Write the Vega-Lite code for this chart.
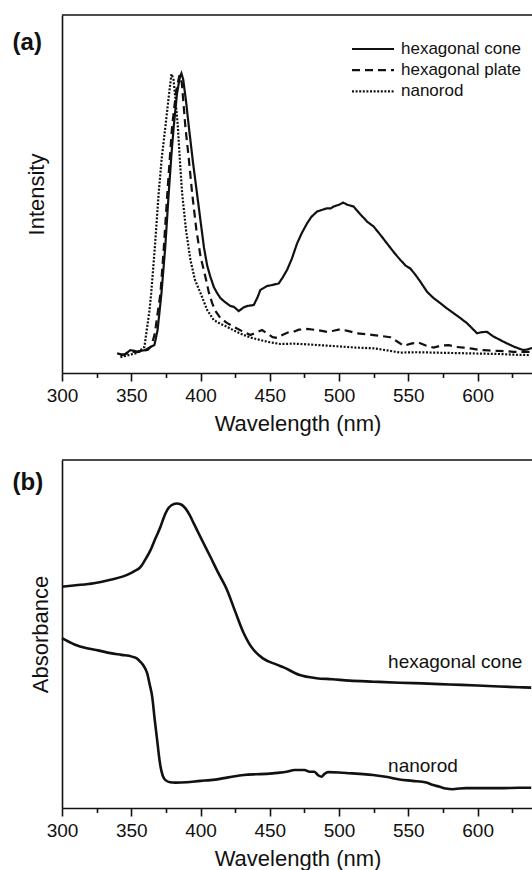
{
  "$schema": "https://vega.github.io/schema/vega-lite/v6.json",
  "background": "white",
  "padding": {"left": 12, "top": 14, "right": 0, "bottom": 0},
  "bounds": "flush",
  "spacing": 87,
  "config": {
    "font": "Liberation Sans",
    "view": {"stroke": null},
    "axis": {
      "domainColor": "#111", "domainWidth": 1.6,
      "tickColor": "#111", "tickWidth": 1.6,
      "labelFont": "Liberation Sans", "labelFontSize": 19, "labelColor": "#111",
      "labelFlush": false, "labelOverlap": false,
      "titleFont": "Liberation Sans", "titleFontSize": 22, "titleFontWeight": "normal", "titleColor": "#111",
      "grid": false
    },
    "legend": {"labelFont": "Liberation Sans", "labelFontSize": 17, "labelColor": "#111"}
  },
  "datasets": {
    "pl": [
      {"s": "hexagonal cone", "wl": 339.8, "v": 5.5}, {"s": "hexagonal cone", "wl": 344.6, "v": 5.0}, {"s": "hexagonal cone", "wl": 349.4, "v": 6.4}, {"s": "hexagonal cone", "wl": 354.2, "v": 6.0}, {"s": "hexagonal cone", "wl": 360.2, "v": 6.4}, {"s": "hexagonal cone", "wl": 363.9, "v": 7.3}, {"s": "hexagonal cone", "wl": 366.7, "v": 7.8}, {"s": "hexagonal cone", "wl": 369, "v": 12}, {"s": "hexagonal cone", "wl": 371.8, "v": 22.3}, {"s": "hexagonal cone", "wl": 374.5, "v": 35}, {"s": "hexagonal cone", "wl": 377, "v": 50}, {"s": "hexagonal cone", "wl": 379, "v": 61}, {"s": "hexagonal cone", "wl": 380.7, "v": 69}, {"s": "hexagonal cone", "wl": 383, "v": 78}, {"s": "hexagonal cone", "wl": 385, "v": 82.5}, {"s": "hexagonal cone", "wl": 386.2, "v": 83.7}, {"s": "hexagonal cone", "wl": 387.5, "v": 82}, {"s": "hexagonal cone", "wl": 389.5, "v": 76}, {"s": "hexagonal cone", "wl": 391.5, "v": 69}, {"s": "hexagonal cone", "wl": 394.5, "v": 59}, {"s": "hexagonal cone", "wl": 397.5, "v": 50}, {"s": "hexagonal cone", "wl": 400.5, "v": 41}, {"s": "hexagonal cone", "wl": 402.5, "v": 35}, {"s": "hexagonal cone", "wl": 404.8, "v": 30}, {"s": "hexagonal cone", "wl": 407, "v": 27}, {"s": "hexagonal cone", "wl": 409.5, "v": 24.1}, {"s": "hexagonal cone", "wl": 412, "v": 22.3}, {"s": "hexagonal cone", "wl": 414.4, "v": 20.9}, {"s": "hexagonal cone", "wl": 418, "v": 19.7}, {"s": "hexagonal cone", "wl": 421.6, "v": 18.7}, {"s": "hexagonal cone", "wl": 424, "v": 18.5}, {"s": "hexagonal cone", "wl": 427.6, "v": 17.3}, {"s": "hexagonal cone", "wl": 431, "v": 18.3}, {"s": "hexagonal cone", "wl": 433.6, "v": 18.7}, {"s": "hexagonal cone", "wl": 438.4, "v": 19}, {"s": "hexagonal cone", "wl": 441, "v": 21}, {"s": "hexagonal cone", "wl": 443.2, "v": 23.2}, {"s": "hexagonal cone", "wl": 448, "v": 24.3}, {"s": "hexagonal cone", "wl": 452, "v": 24.6}, {"s": "hexagonal cone", "wl": 456.4, "v": 25}, {"s": "hexagonal cone", "wl": 459, "v": 26.5}, {"s": "hexagonal cone", "wl": 462.5, "v": 28.8}, {"s": "hexagonal cone", "wl": 466, "v": 32}, {"s": "hexagonal cone", "wl": 469.7, "v": 36.2}, {"s": "hexagonal cone", "wl": 473, "v": 39}, {"s": "hexagonal cone", "wl": 476.9, "v": 41.8}, {"s": "hexagonal cone", "wl": 480, "v": 43.6}, {"s": "hexagonal cone", "wl": 484.1, "v": 45.1}, {"s": "hexagonal cone", "wl": 488, "v": 45.6}, {"s": "hexagonal cone", "wl": 491.3, "v": 46}, {"s": "hexagonal cone", "wl": 494, "v": 46}, {"s": "hexagonal cone", "wl": 496.1, "v": 46.5}, {"s": "hexagonal cone", "wl": 500, "v": 47}, {"s": "hexagonal cone", "wl": 502.9, "v": 47.6}, {"s": "hexagonal cone", "wl": 506, "v": 47}, {"s": "hexagonal cone", "wl": 510.5, "v": 46.5}, {"s": "hexagonal cone", "wl": 515, "v": 44.5}, {"s": "hexagonal cone", "wl": 520.2, "v": 42.3}, {"s": "hexagonal cone", "wl": 525, "v": 40.9}, {"s": "hexagonal cone", "wl": 530, "v": 38.5}, {"s": "hexagonal cone", "wl": 534.6, "v": 36.2}, {"s": "hexagonal cone", "wl": 540, "v": 33.5}, {"s": "hexagonal cone", "wl": 544.2, "v": 31.6}, {"s": "hexagonal cone", "wl": 548, "v": 30}, {"s": "hexagonal cone", "wl": 551.4, "v": 29.2}, {"s": "hexagonal cone", "wl": 555, "v": 27.5}, {"s": "hexagonal cone", "wl": 558.7, "v": 25.5}, {"s": "hexagonal cone", "wl": 563.5, "v": 22.7}, {"s": "hexagonal cone", "wl": 568, "v": 21}, {"s": "hexagonal cone", "wl": 573.1, "v": 19.5}, {"s": "hexagonal cone", "wl": 578, "v": 18}, {"s": "hexagonal cone", "wl": 582.7, "v": 16.7}, {"s": "hexagonal cone", "wl": 587, "v": 15.5}, {"s": "hexagonal cone", "wl": 592.4, "v": 13.9}, {"s": "hexagonal cone", "wl": 596, "v": 12.5}, {"s": "hexagonal cone", "wl": 599.6, "v": 11.1}, {"s": "hexagonal cone", "wl": 603, "v": 11.4}, {"s": "hexagonal cone", "wl": 606.8, "v": 11.5}, {"s": "hexagonal cone", "wl": 611, "v": 10.3}, {"s": "hexagonal cone", "wl": 616.4, "v": 9.2}, {"s": "hexagonal cone", "wl": 621, "v": 8.3}, {"s": "hexagonal cone", "wl": 626, "v": 7.4}, {"s": "hexagonal cone", "wl": 630, "v": 6.8}, {"s": "hexagonal cone", "wl": 633.2, "v": 6.4}, {"s": "hexagonal cone", "wl": 636, "v": 6.6}, {"s": "hexagonal cone", "wl": 639.3, "v": 7},

      {"s": "hexagonal plate", "wl": 342, "v": 5}, {"s": "hexagonal plate", "wl": 346, "v": 5.3}, {"s": "hexagonal plate", "wl": 350, "v": 6}, {"s": "hexagonal plate", "wl": 354, "v": 5.8}, {"s": "hexagonal plate", "wl": 358, "v": 6}, {"s": "hexagonal plate", "wl": 362, "v": 6.5}, {"s": "hexagonal plate", "wl": 364.5, "v": 7.5}, {"s": "hexagonal plate", "wl": 367, "v": 11}, {"s": "hexagonal plate", "wl": 369.5, "v": 18}, {"s": "hexagonal plate", "wl": 371, "v": 22}, {"s": "hexagonal plate", "wl": 373.5, "v": 35}, {"s": "hexagonal plate", "wl": 376, "v": 50}, {"s": "hexagonal plate", "wl": 378, "v": 61}, {"s": "hexagonal plate", "wl": 379.5, "v": 69}, {"s": "hexagonal plate", "wl": 382.5, "v": 79}, {"s": "hexagonal plate", "wl": 384.8, "v": 83.2}, {"s": "hexagonal plate", "wl": 386.5, "v": 81}, {"s": "hexagonal plate", "wl": 389, "v": 69}, {"s": "hexagonal plate", "wl": 391.5, "v": 60}, {"s": "hexagonal plate", "wl": 394, "v": 50}, {"s": "hexagonal plate", "wl": 397, "v": 40}, {"s": "hexagonal plate", "wl": 400, "v": 32.5}, {"s": "hexagonal plate", "wl": 403.5, "v": 26.9}, {"s": "hexagonal plate", "wl": 406, "v": 22.5}, {"s": "hexagonal plate", "wl": 408.4, "v": 19.5}, {"s": "hexagonal plate", "wl": 411, "v": 17.2}, {"s": "hexagonal plate", "wl": 414.4, "v": 15.3}, {"s": "hexagonal plate", "wl": 419, "v": 14}, {"s": "hexagonal plate", "wl": 424, "v": 12.9}, {"s": "hexagonal plate", "wl": 430, "v": 11.7}, {"s": "hexagonal plate", "wl": 436, "v": 10.6}, {"s": "hexagonal plate", "wl": 440, "v": 11.3}, {"s": "hexagonal plate", "wl": 444.4, "v": 12}, {"s": "hexagonal plate", "wl": 449, "v": 10.8}, {"s": "hexagonal plate", "wl": 452, "v": 10}, {"s": "hexagonal plate", "wl": 455.3, "v": 9.8}, {"s": "hexagonal plate", "wl": 459, "v": 10.6}, {"s": "hexagonal plate", "wl": 463, "v": 11.3}, {"s": "hexagonal plate", "wl": 467.2, "v": 11.5}, {"s": "hexagonal plate", "wl": 471, "v": 12.1}, {"s": "hexagonal plate", "wl": 476.9, "v": 12.3}, {"s": "hexagonal plate", "wl": 484, "v": 12}, {"s": "hexagonal plate", "wl": 491.3, "v": 11.5}, {"s": "hexagonal plate", "wl": 496, "v": 11.8}, {"s": "hexagonal plate", "wl": 500.9, "v": 12.2}, {"s": "hexagonal plate", "wl": 507, "v": 11.7}, {"s": "hexagonal plate", "wl": 513, "v": 11.1}, {"s": "hexagonal plate", "wl": 520, "v": 10.8}, {"s": "hexagonal plate", "wl": 525, "v": 10.6}, {"s": "hexagonal plate", "wl": 531, "v": 10.3}, {"s": "hexagonal plate", "wl": 537, "v": 10}, {"s": "hexagonal plate", "wl": 542, "v": 8.8}, {"s": "hexagonal plate", "wl": 546.6, "v": 7.6}, {"s": "hexagonal plate", "wl": 552, "v": 8.2}, {"s": "hexagonal plate", "wl": 557.4, "v": 8.5}, {"s": "hexagonal plate", "wl": 563, "v": 7.6}, {"s": "hexagonal plate", "wl": 568.3, "v": 7.1}, {"s": "hexagonal plate", "wl": 573, "v": 7.6}, {"s": "hexagonal plate", "wl": 579.1, "v": 7.8}, {"s": "hexagonal plate", "wl": 584, "v": 7.3}, {"s": "hexagonal plate", "wl": 589.9, "v": 7.1}, {"s": "hexagonal plate", "wl": 596, "v": 6.8}, {"s": "hexagonal plate", "wl": 602, "v": 6.4}, {"s": "hexagonal plate", "wl": 608, "v": 6.3}, {"s": "hexagonal plate", "wl": 614, "v": 6.2}, {"s": "hexagonal plate", "wl": 620, "v": 6.1}, {"s": "hexagonal plate", "wl": 626, "v": 5.9}, {"s": "hexagonal plate", "wl": 632, "v": 5.9}, {"s": "hexagonal plate", "wl": 638, "v": 5.9},

      {"s": "nanorod", "wl": 342.2, "v": 4.4}, {"s": "nanorod", "wl": 346, "v": 4.8}, {"s": "nanorod", "wl": 350, "v": 5.2}, {"s": "nanorod", "wl": 354, "v": 5.6}, {"s": "nanorod", "wl": 356.6, "v": 6.4}, {"s": "nanorod", "wl": 359.5, "v": 7.3}, {"s": "nanorod", "wl": 361.5, "v": 12.9}, {"s": "nanorod", "wl": 363, "v": 17}, {"s": "nanorod", "wl": 364.4, "v": 22.3}, {"s": "nanorod", "wl": 367, "v": 35}, {"s": "nanorod", "wl": 369.8, "v": 50.3}, {"s": "nanorod", "wl": 372, "v": 60}, {"s": "nanorod", "wl": 374.7, "v": 69}, {"s": "nanorod", "wl": 377, "v": 77}, {"s": "nanorod", "wl": 379, "v": 83.5}, {"s": "nanorod", "wl": 380.5, "v": 82}, {"s": "nanorod", "wl": 382, "v": 76}, {"s": "nanorod", "wl": 383.6, "v": 69}, {"s": "nanorod", "wl": 385, "v": 60}, {"s": "nanorod", "wl": 386.7, "v": 50.3}, {"s": "nanorod", "wl": 389.5, "v": 40}, {"s": "nanorod", "wl": 392.7, "v": 31.6}, {"s": "nanorod", "wl": 396, "v": 26}, {"s": "nanorod", "wl": 400, "v": 22.3}, {"s": "nanorod", "wl": 404.8, "v": 17.6}, {"s": "nanorod", "wl": 409.5, "v": 14.8}, {"s": "nanorod", "wl": 414, "v": 13.8}, {"s": "nanorod", "wl": 419.2, "v": 12.9}, {"s": "nanorod", "wl": 425, "v": 11.7}, {"s": "nanorod", "wl": 431.2, "v": 10.6}, {"s": "nanorod", "wl": 437, "v": 9.8}, {"s": "nanorod", "wl": 443.2, "v": 9.2}, {"s": "nanorod", "wl": 450, "v": 8.6}, {"s": "nanorod", "wl": 457.6, "v": 8.1}, {"s": "nanorod", "wl": 467, "v": 8.2}, {"s": "nanorod", "wl": 476.9, "v": 8}, {"s": "nanorod", "wl": 489, "v": 7.7}, {"s": "nanorod", "wl": 500.9, "v": 7.4}, {"s": "nanorod", "wl": 512, "v": 7.1}, {"s": "nanorod", "wl": 525, "v": 6.9}, {"s": "nanorod", "wl": 535, "v": 6.3}, {"s": "nanorod", "wl": 544.2, "v": 5.7}, {"s": "nanorod", "wl": 556, "v": 5.8}, {"s": "nanorod", "wl": 568.3, "v": 5.7}, {"s": "nanorod", "wl": 580, "v": 5.6}, {"s": "nanorod", "wl": 592.4, "v": 5.5}, {"s": "nanorod", "wl": 604, "v": 5.4}, {"s": "nanorod", "wl": 616.4, "v": 5.3}, {"s": "nanorod", "wl": 627, "v": 5.1}, {"s": "nanorod", "wl": 638, "v": 5}
    ],
    "abs": [
      {"s": "hexagonal cone", "wl": 300, "v": 63.6}, {"s": "hexagonal cone", "wl": 310, "v": 64}, {"s": "hexagonal cone", "wl": 323, "v": 64.6}, {"s": "hexagonal cone", "wl": 335, "v": 65.6}, {"s": "hexagonal cone", "wl": 347, "v": 67}, {"s": "hexagonal cone", "wl": 352, "v": 68}, {"s": "hexagonal cone", "wl": 356.6, "v": 69.2}, {"s": "hexagonal cone", "wl": 360, "v": 71.3}, {"s": "hexagonal cone", "wl": 363.9, "v": 74.1}, {"s": "hexagonal cone", "wl": 367.5, "v": 77.5}, {"s": "hexagonal cone", "wl": 371.1, "v": 80.8}, {"s": "hexagonal cone", "wl": 373.5, "v": 83.5}, {"s": "hexagonal cone", "wl": 375.9, "v": 85.6}, {"s": "hexagonal cone", "wl": 379, "v": 87}, {"s": "hexagonal cone", "wl": 382.6, "v": 87.5}, {"s": "hexagonal cone", "wl": 386, "v": 87.2}, {"s": "hexagonal cone", "wl": 389.1, "v": 86.1}, {"s": "hexagonal cone", "wl": 392, "v": 84.3}, {"s": "hexagonal cone", "wl": 395.1, "v": 81.8}, {"s": "hexagonal cone", "wl": 401, "v": 77}, {"s": "hexagonal cone", "wl": 407.1, "v": 72.2}, {"s": "hexagonal cone", "wl": 413, "v": 67.4}, {"s": "hexagonal cone", "wl": 419.2, "v": 62.6}, {"s": "hexagonal cone", "wl": 425, "v": 56.5}, {"s": "hexagonal cone", "wl": 431.2, "v": 50.2}, {"s": "hexagonal cone", "wl": 435, "v": 47.3}, {"s": "hexagonal cone", "wl": 438.4, "v": 45.4}, {"s": "hexagonal cone", "wl": 445, "v": 43}, {"s": "hexagonal cone", "wl": 455, "v": 41.2}, {"s": "hexagonal cone", "wl": 460, "v": 40.4}, {"s": "hexagonal cone", "wl": 471.6, "v": 38.2}, {"s": "hexagonal cone", "wl": 483.6, "v": 37.3}, {"s": "hexagonal cone", "wl": 495, "v": 37}, {"s": "hexagonal cone", "wl": 507.6, "v": 36.6}, {"s": "hexagonal cone", "wl": 525, "v": 36.3}, {"s": "hexagonal cone", "wl": 543.7, "v": 36}, {"s": "hexagonal cone", "wl": 560, "v": 35.8}, {"s": "hexagonal cone", "wl": 579.8, "v": 35.5}, {"s": "hexagonal cone", "wl": 600, "v": 35.2}, {"s": "hexagonal cone", "wl": 615.9, "v": 34.9}, {"s": "hexagonal cone", "wl": 630, "v": 34.7}, {"s": "hexagonal cone", "wl": 638.7, "v": 34.6},

      {"s": "nanorod", "wl": 300, "v": 48.8}, {"s": "nanorod", "wl": 309, "v": 47}, {"s": "nanorod", "wl": 318, "v": 45.9}, {"s": "nanorod", "wl": 326, "v": 45.3}, {"s": "nanorod", "wl": 335, "v": 44.5}, {"s": "nanorod", "wl": 343, "v": 44}, {"s": "nanorod", "wl": 350.6, "v": 43.5}, {"s": "nanorod", "wl": 354, "v": 43}, {"s": "nanorod", "wl": 356.6, "v": 42}, {"s": "nanorod", "wl": 359, "v": 40.8}, {"s": "nanorod", "wl": 361.5, "v": 38.7}, {"s": "nanorod", "wl": 363.3, "v": 35.5}, {"s": "nanorod", "wl": 365.1, "v": 32}, {"s": "nanorod", "wl": 366.9, "v": 25.5}, {"s": "nanorod", "wl": 368.7, "v": 19.5}, {"s": "nanorod", "wl": 370, "v": 15}, {"s": "nanorod", "wl": 371.1, "v": 11.9}, {"s": "nanorod", "wl": 372.8, "v": 9.2}, {"s": "nanorod", "wl": 374.7, "v": 8}, {"s": "nanorod", "wl": 378, "v": 7.4}, {"s": "nanorod", "wl": 381.9, "v": 7.3}, {"s": "nanorod", "wl": 390, "v": 7.4}, {"s": "nanorod", "wl": 400, "v": 7.8}, {"s": "nanorod", "wl": 407.1, "v": 8}, {"s": "nanorod", "wl": 420, "v": 8.8}, {"s": "nanorod", "wl": 431.2, "v": 9.5}, {"s": "nanorod", "wl": 440, "v": 9.7}, {"s": "nanorod", "wl": 447.5, "v": 9.8}, {"s": "nanorod", "wl": 455.3, "v": 10.1}, {"s": "nanorod", "wl": 462, "v": 10.4}, {"s": "nanorod", "wl": 468, "v": 10.9}, {"s": "nanorod", "wl": 471.6, "v": 10.9}, {"s": "nanorod", "wl": 475, "v": 10.9}, {"s": "nanorod", "wl": 478.8, "v": 10.4}, {"s": "nanorod", "wl": 482, "v": 10.4}, {"s": "nanorod", "wl": 485, "v": 9.4}, {"s": "nanorod", "wl": 487.3, "v": 9}, {"s": "nanorod", "wl": 489.5, "v": 9.8}, {"s": "nanorod", "wl": 492.1, "v": 10.3}, {"s": "nanorod", "wl": 500, "v": 10.2}, {"s": "nanorod", "wl": 507.6, "v": 10}, {"s": "nanorod", "wl": 515, "v": 9.8}, {"s": "nanorod", "wl": 524.5, "v": 9.5}, {"s": "nanorod", "wl": 535, "v": 8.9}, {"s": "nanorod", "wl": 543.7, "v": 8.2}, {"s": "nanorod", "wl": 553, "v": 7.8}, {"s": "nanorod", "wl": 563, "v": 7.3}, {"s": "nanorod", "wl": 568, "v": 6.6}, {"s": "nanorod", "wl": 572.6, "v": 6.1}, {"s": "nanorod", "wl": 577, "v": 5.6}, {"s": "nanorod", "wl": 582.2, "v": 5.4}, {"s": "nanorod", "wl": 587, "v": 5.6}, {"s": "nanorod", "wl": 591.9, "v": 5.7}, {"s": "nanorod", "wl": 605, "v": 5.7}, {"s": "nanorod", "wl": 615.9, "v": 5.7}, {"s": "nanorod", "wl": 630, "v": 5.8}, {"s": "nanorod", "wl": 638.7, "v": 5.8}
    ],
    "ann": [
      {"label": "hexagonal cone", "wl": 535.4, "v": 42},
      {"label": "nanorod", "wl": 535.4, "v": 12.1}
    ]
  },
  "vconcat": [
    {
      "width": 471,
      "height": 358,
      "resolve": {"axis": {"x": "independent"}},
      "layer": [
        {
          "data": {"name": "pl"},
          "mark": {"type": "line", "strokeWidth": 2.2, "color": "#111"},
          "encoding": {
            "x": {
              "field": "wl", "type": "quantitative",
              "scale": {"domain": [300, 640], "nice": false, "zero": false},
              "axis": {
                "orient": "bottom",
                "title": "Wavelength (nm)",
                "values": [300, 350, 400, 450, 500, 550, 600],
                "tickSize": 8,
                "labelPadding": 5,
                "titlePadding": 8.6
              }
            },
            "y": {
              "field": "v", "type": "quantitative",
              "scale": {"domain": [0, 100], "nice": false},
              "axis": {"title": "Intensity", "labels": false, "ticks": false, "titlePadding": 14}
            },
            "strokeDash": {
              "field": "s", "type": "nominal",
              "scale": {"domain": ["hexagonal cone", "hexagonal plate", "nanorod"], "range": [[1, 0], [8, 5], [2, 1.6]]},
              "legend": {
                "title": null,
                "orient": "none",
                "legendX": 299,
                "legendY": 22,
                "symbolType": "M-2,0H2",
                "symbolSize": 441,
                "symbolStrokeColor": "#111",
                "symbolStrokeWidth": 2.2,
                "labelOffset": 16,
                "rowPadding": 1.2,
                "padding": 0
              }
            }
          }
        },
        {
          "data": {"values": [{}]},
          "mark": {"type": "rule", "color": "#111", "strokeWidth": 1.6},
          "encoding": {"y": {"datum": 100, "type": "quantitative"}}
        },
        {
          "data": {"values": [{"label": "(a)"}]},
          "mark": {"type": "text", "align": "left", "baseline": "alphabetic", "font": "Liberation Sans", "fontSize": 24, "fontWeight": "bold", "color": "#111"},
          "encoding": {
            "x": {
              "datum": 264.3, "type": "quantitative",
              "axis": {
                "orient": "bottom",
                "title": null,
                "values": [325, 375, 425, 475, 525, 575, 625],
                "tickSize": 4.5,
                "labels": false,
                "domain": false
              }
            },
            "y": {"datum": 90.2, "type": "quantitative"},
            "text": {"field": "label"}
          }
        }
      ]
    },
    {
      "width": 471,
      "height": 348,
      "resolve": {"axis": {"x": "independent"}},
      "layer": [
        {
          "data": {"name": "abs"},
          "mark": {"type": "line", "strokeWidth": 2.6, "color": "#111", "interpolate": "monotone"},
          "encoding": {
            "x": {
              "field": "wl", "type": "quantitative",
              "scale": {"domain": [300, 640], "nice": false, "zero": false},
              "axis": {
                "orient": "bottom",
                "title": "Wavelength (nm)",
                "values": [300, 350, 400, 450, 500, 550, 600],
                "tickSize": 8,
                "labelPadding": 5,
                "titlePadding": 8.6
              }
            },
            "y": {
              "field": "v", "type": "quantitative",
              "scale": {"domain": [0, 100], "nice": false},
              "axis": {"title": "Absorbance", "labels": false, "ticks": false, "titlePadding": 10}
            },
            "detail": {"field": "s", "type": "nominal"}
          }
        },
        {
          "data": {"name": "ann"},
          "mark": {"type": "text", "align": "left", "baseline": "middle", "font": "Liberation Sans", "fontSize": 19, "color": "#111"},
          "encoding": {
            "x": {"field": "wl", "type": "quantitative", "axis": null},
            "y": {"field": "v", "type": "quantitative"},
            "text": {"field": "label"}
          }
        },
        {
          "data": {"values": [{}]},
          "mark": {"type": "rule", "color": "#111", "strokeWidth": 1.6},
          "encoding": {"y": {"datum": 100, "type": "quantitative"}}
        },
        {
          "data": {"values": [{"label": "(b)"}]},
          "mark": {"type": "text", "align": "left", "baseline": "alphabetic", "font": "Liberation Sans", "fontSize": 24, "fontWeight": "bold", "color": "#111"},
          "encoding": {
            "x": {
              "datum": 264.3, "type": "quantitative",
              "axis": {
                "orient": "bottom",
                "title": null,
                "values": [325, 375, 425, 475, 525, 575, 625],
                "tickSize": 4.5,
                "labels": false,
                "domain": false
              }
            },
            "y": {"datum": 91.4, "type": "quantitative"},
            "text": {"field": "label"}
          }
        }
      ]
    }
  ]
}
